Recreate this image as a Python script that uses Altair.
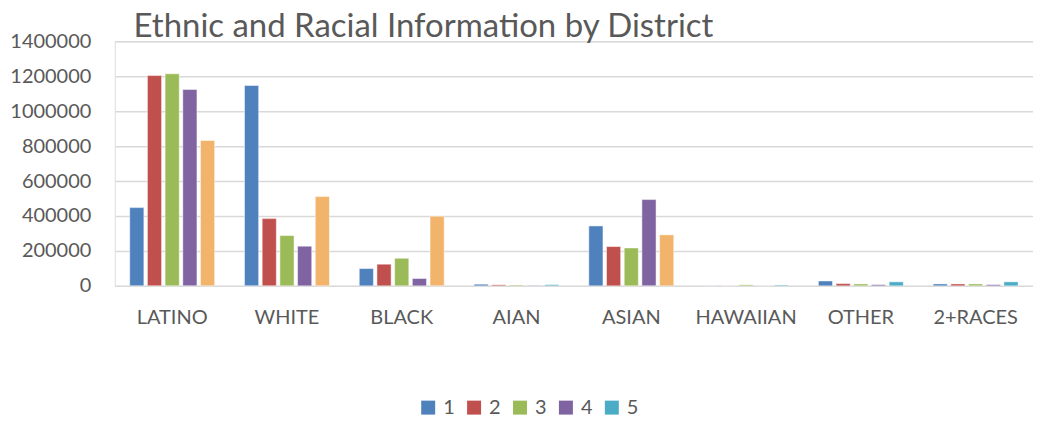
import altair as alt
import pandas as pd

categories = ["LATINO", "WHITE", "BLACK", "AIAN", "ASIAN", "HAWAIIAN", "OTHER", "2+RACES"]
districts = ["1", "2", "3", "4", "5"]
d1 = [448000, 1147000, 99000, 9500, 343000, 1500, 28000, 11000]
d2 = [1204000, 385000, 124000, 6000, 225000, 1000, 13000, 11000]
d3 = [1214000, 288000, 158000, 5000, 217000, 6000, 11000, 11000]
d4 = [1124000, 227000, 42000, 3000, 494000, 1000, 7000, 7000]
d5 = [832000, 511000, 399000, 7000, 292000, 5000, 23000, 23000]
# categories whose district-5 bar is drawn in orange in the reference
orange_cats = ["LATINO", "WHITE", "BLACK", "ASIAN"]

rows = []
for i, c in enumerate(categories):
    for d, vals in zip(districts, [d1, d2, d3, d4, d5]):
        key = d
        if d == "5" and c in orange_cats:
            key = "5o"
        rows.append({"category": c, "district": d, "value": vals[i], "ckey": key})
df = pd.DataFrame(rows)

font = "Lato"
grey = "#595959"

chart = alt.Chart(df).mark_bar(stroke="white", strokeWidth=0.8, strokeOpacity=0.6).encode(
    x=alt.X("category:N", sort=categories, title=None,
            scale=alt.Scale(paddingInner=0.26, paddingOuter=0.13),
            axis=alt.Axis(labelAngle=0, ticks=False, domain=False, labelFontSize=20,
                          labelColor=grey, labelFont=font, labelPadding=22, grid=False)),
    xOffset=alt.XOffset("district:N", sort=districts, scale=alt.Scale(paddingInner=0.2)),
    y=alt.Y("value:Q", title=None,
            scale=alt.Scale(domain=[0, 1400000], nice=False),
            axis=alt.Axis(values=list(range(0, 1400001, 200000)), format="d", ticks=False,
                          domain=False, labelFontSize=20, labelColor=grey, labelFont=font,
                          labelPadding=24, gridColor="#d9d9d9", gridWidth=1.5)),
    color=alt.Color("ckey:N",
                    scale=alt.Scale(domain=["1", "2", "3", "4", "5", "5o"],
                                    range=["#4F81BD", "#C0504D", "#9BBB59", "#8064A2", "#4BACC6", "#F2B36B"]),
                    legend=alt.Legend(values=["1", "2", "3", "4", "5"], title=None, orient="none",
                                      direction="horizontal", legendX=304, legendY=357,
                                      symbolType="square", symbolSize=196, symbolStrokeWidth=0,
                                      labelFontSize=20, labelColor=grey, labelFont=font,
                                      columnPadding=9, labelOffset=5)),
).properties(
    width=920,
    height=245,
    title=alt.TitleParams("Ethnic and Racial Information by District", anchor="start",
                          fontSize=33, font=font, fontWeight="normal", color=grey,
                          dx=124, dy=19, offset=6),
    autosize=alt.AutoSizeParams(type="none"),
    padding={"left": 107, "top": 33, "right": 0, "bottom": 133},
).configure_view(stroke=None).configure(background="white")

chart.save("out.html", embed_options={"renderer": "svg", "actions": False})
